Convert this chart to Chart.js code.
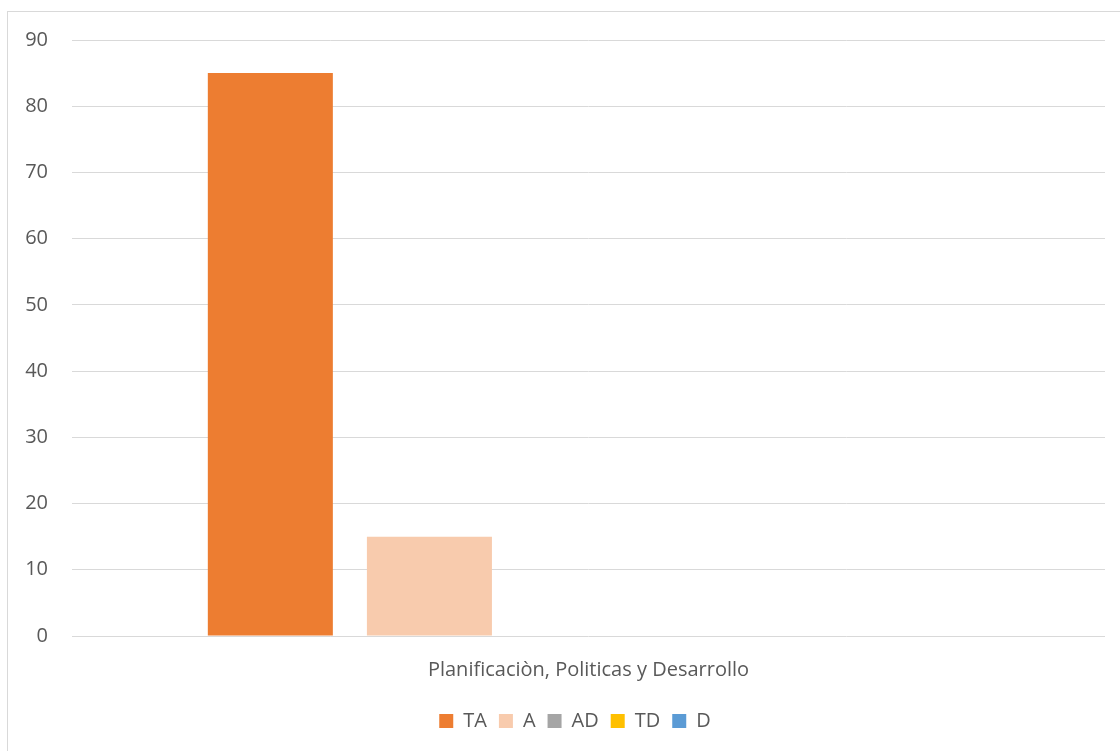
<!DOCTYPE html>
<html>
<head>
<meta charset="utf-8">
<script src="https://cdn.jsdelivr.net/npm/chart.js@4.4.1/dist/chart.umd.min.js"></script>
<style>
  html, body { margin: 0; padding: 0; background: #fff; overflow: hidden; }
  #wrap { position: relative; width: 1120px; height: 751px; }
  #frame { position: absolute; left: 7px; top: 11px; width: 1200px; height: 800px; border: 1px solid #d9d9d9; }
  #myChart { position: absolute; left: 0; top: 0; }
</style>
</head>
<body>
<div id="wrap">
  <div id="frame"></div>
  <canvas id="myChart" width="1120" height="751"></canvas>
</div>
<script>
var categories = ["Planificaciòn, Politicas y Desarrollo"];
var seriesNames = ["TA", "A", "AD", "TD", "D"];
var seriesValues = [[85], [15], [0], [0], [0]];
var seriesColors = ['#ED7D31', '#F8CBAD', '#A5A5A5', '#FFC000', '#5B9BD5'];
var yTicks = [0, 10, 20, 30, 40, 50, 60, 70, 80, 90];

var textColor = '#595959';
var fontFamily = '"Open Sans", "Liberation Sans", sans-serif';

var datasets = seriesNames.map(function (name, i) {
    return {
        label: name,
        data: seriesValues[i],
        backgroundColor: seriesColors[i],
        borderWidth: 0,
        categoryPercentage: 0.77,
        barPercentage: 0.786
    };
});

// nudge the legend a bit to the right, like the original
var legendShift = {
    id: 'legendShift',
    afterLayout: function (chart) {
        chart.legend.left += 45;
        chart.legend.width -= 45;
    }
};

var ctx = document.getElementById('myChart').getContext('2d');
var chart = new Chart(ctx, {
    type: 'bar',
    data: {
        labels: categories,
        datasets: datasets
    },
    plugins: [legendShift],
    options: {
        responsive: false,
        animation: false,
        layout: {
            padding: { left: 0, right: 15, top: 40, bottom: 10 }
        },
        plugins: {
            tooltip: { enabled: false },
            legend: {
                position: 'bottom',
                labels: {
                    boxWidth: 14,
                    boxHeight: 14,
                    padding: 12,
                    color: textColor,
                    font: { family: fontFamily, size: 20 }
                }
            }
        },
        scales: {
            x: {
                grid: { display: false, drawTicks: false },
                border: { display: false },
                ticks: {
                    color: textColor,
                    padding: 22,
                    font: { family: fontFamily, size: 20 }
                },
                afterFit: function (scale) { scale.height = 63; }
            },
            y: {
                min: yTicks[0],
                max: yTicks[yTicks.length - 1],
                grid: { color: '#d9d9d9', lineWidth: 1, drawTicks: false },
                border: { display: false },
                ticks: {
                    stepSize: 10,
                    padding: 24,
                    color: textColor,
                    font: { family: fontFamily, size: 20 }
                },
                afterFit: function (scale) { scale.width = 72; }
            }
        }
    }
});
</script>
</body>
</html>
